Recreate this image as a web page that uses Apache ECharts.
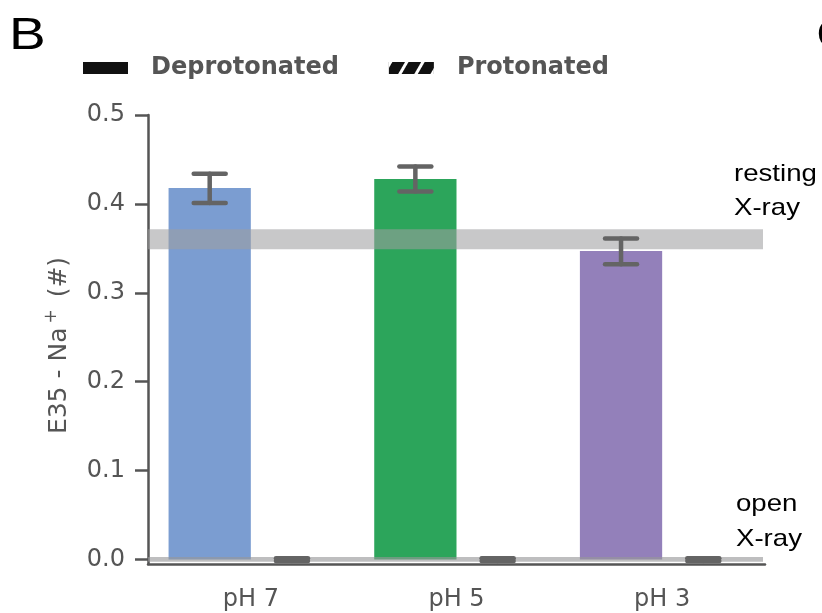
<!DOCTYPE html>
<html>
<head>
<meta charset="utf-8">
<script src="https://cdn.jsdelivr.net/npm/echarts@6/dist/echarts.min.js"></script>
<style>html,body{margin:0;padding:0;background:#fff}#c{width:822px;height:613px}</style>
</head>
<body>
<div id="c"></div>
<script>
const categories = ['pH 7', 'pH 5', 'pH 3'];
const deprotonated = [0.418, 0.428, 0.347];
const deprotonatedErrLow = [0.401, 0.414, 0.332];
const deprotonatedErrHigh = [0.434, 0.442, 0.361];
const protonated = [0, 0, 0];
const protonatedErrLow = [-0.0015, -0.0015, -0.0015];
const protonatedErrHigh = [0.0015, 0.0015, 0.0015];
const barColors = ['#7b9dd1', '#2ca55b', '#9380ba'];
const yTicks = [0, 0.1, 0.2, 0.3, 0.4, 0.5];
const restingBand = [0.349, 0.3716];
const openBand = [-0.0025, 0.003];

const chart = echarts.init(document.getElementById('c'), null, {renderer: 'canvas'});

function errItem(offsetFrac) {
  return function (params, api) {
    const ci = api.value(0);
    const lo = api.value(1), hi = api.value(2);
    const band = api.size([1, 0])[0];
    const cx = api.coord([ci, 0])[0] + offsetFrac * band;
    const yLo = api.coord([ci, lo])[1];
    const yHi = api.coord([ci, hi])[1];
    const hw = 16;
    const st = {stroke: '#646464', lineWidth: 4.5, lineCap: 'round'};
    return {type: 'group', children: [
      {type: 'line', shape: {x1: cx, y1: yLo, x2: cx, y2: yHi}, style: st},
      {type: 'line', shape: {x1: cx - hw, y1: yLo, x2: cx + hw, y2: yLo}, style: st},
      {type: 'line', shape: {x1: cx - hw, y1: yHi, x2: cx + hw, y2: yHi}, style: st}
    ]};
  };
}

function bandItem(params, api) {
  const cs = params.coordSys;
  const y1 = api.coord([0, api.value(1)])[1];
  const y2 = api.coord([0, api.value(2)])[1];
  return {type: 'rect', shape: {x: cs.x, y: Math.min(y1, y2), width: cs.width - 2, height: Math.abs(y1 - y2)},
    style: {fill: api.value(3) ? 'rgba(150,150,152,0.62)' : 'rgba(158,158,160,0.57)'}};
}

const option = {
  animation: false,
  grid: {left: 148, right: 57, top: 115, bottom: 49},
  legend: {
    left: 83, top: 56, padding: 0,
    itemWidth: 45, itemHeight: 12, itemGap: 50,
    icon: 'rect',
    data: ['Deprotonated', 'Protonated'],
    textStyle: {fontFamily: 'DejaVu Sans', fontWeight: 'bold', fontSize: 24, color: '#555', padding: [0, 0, 0, 18]}
  },
  xAxis: {
    type: 'category', data: categories,
    axisLine: {onZero: false, lineStyle: {color: '#555', width: 2.5}},
    axisTick: {alignWithLabel: true, length: 13, lineStyle: {color: '#555', width: 2.5}},
    axisLabel: {fontFamily: 'DejaVu Sans', fontSize: 24, color: '#555', margin: 24},
    splitLine: {show: false}
  },
  yAxis: {
    type: 'value', min: -0.005, max: 0.5,
    name: 'E35 - Na{sup|+} (#)',
    nameLocation: 'middle', nameGap: 73,
    nameTextStyle: {fontFamily: 'DejaVu Sans', fontSize: 25, color: '#555', padding: [0, 12, 0, 0],
      rich: {sup: {fontFamily: 'DejaVu Sans', fontSize: 17, color: '#555', padding: [0, 4, 15, 4]}}},
    axisLine: {show: true, lineStyle: {color: '#555', width: 2.5}},
    axisTick: {show: true, length: 13, customValues: yTicks, lineStyle: {color: '#555', width: 2.5}},
    axisLabel: {fontFamily: 'DejaVu Sans', fontSize: 24, color: '#555', margin: 23,
      customValues: yTicks, formatter: v => v.toFixed(1)},
    splitLine: {show: false}
  },
  series: [
    {name: 'Deprotonated', type: 'bar', z: 2, barGap: '0%', barCategoryGap: '20%',
      itemStyle: {color: '#111'},
      data: deprotonated.map((v, i) => ({value: v, itemStyle: {color: barColors[i]}}))},
    {name: 'Protonated', type: 'bar', z: 2,
      itemStyle: {color: '#111', decal: {symbol: 'rect', color: '#fff', dashArrayX: [1, 0], dashArrayY: [3, 11], rotation: -Math.PI / 3, symbolSize: 1}},
      data: protonated},
    {type: 'custom', z: 3, silent: true, renderItem: bandItem, encode: {x: 0, y: [1, 2]},
      data: [[0, restingBand[0], restingBand[1], 0], [0, openBand[0], openBand[1], 1]]},
    {type: 'custom', z: 4, silent: true, renderItem: errItem(-0.2), encode: {x: 0, y: [1, 2]},
      data: categories.map((c, i) => [i, deprotonatedErrLow[i], deprotonatedErrHigh[i]])},
    {type: 'custom', z: 4, silent: true, renderItem: errItem(0.2), encode: {x: 0, y: [1, 2]},
      data: categories.map((c, i) => [i, protonatedErrLow[i], protonatedErrHigh[i]])}
  ],
  graphic: [
    {type: 'text', x: 9, y: 15, scaleX: 1.25, style: {text: 'B', fontFamily: 'Liberation Sans', fontSize: 44, fill: '#000'}},
    {type: 'text', x: 816, y: 15, scaleX: 1.25, style: {text: 'C', fontFamily: 'Liberation Sans', fontSize: 44, fill: '#000'}},
    {type: 'text', x: 734, y: 174, scaleX: 1.15, style: {text: 'resting', fontFamily: 'Liberation Sans', fontSize: 24, fill: '#000', verticalAlign: 'middle'}},
    {type: 'text', x: 734, y: 208, scaleX: 1.15, style: {text: 'X-ray', fontFamily: 'Liberation Sans', fontSize: 24, fill: '#000', verticalAlign: 'middle'}},
    {type: 'text', x: 736, y: 504, scaleX: 1.15, style: {text: 'open', fontFamily: 'Liberation Sans', fontSize: 24, fill: '#000', verticalAlign: 'middle'}},
    {type: 'text', x: 736, y: 539, scaleX: 1.15, style: {text: 'X-ray', fontFamily: 'Liberation Sans', fontSize: 24, fill: '#000', verticalAlign: 'middle'}}
  ]
};
chart.setOption(option);
</script>
</body>
</html>
